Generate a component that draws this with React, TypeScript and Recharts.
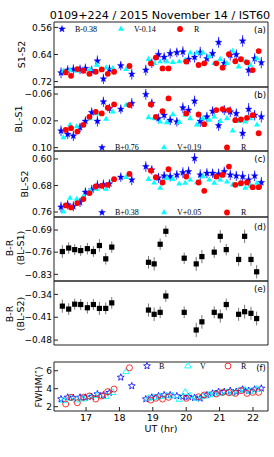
import React from "react";
import { ScatterChart, Scatter, XAxis, YAxis, ErrorBar } from "recharts";

// observation times (UT hr) for each filter
const timeB = [16.25, 16.45, 16.62, 16.82, 16.98, 17.17, 17.34, 17.52, 17.7, 18.04, 18.37, 18.79, 18.97, 19.17, 19.34, 19.52, 19.72, 19.9, 20.07, 20.25, 20.42, 20.62, 20.79, 20.97, 21.14, 21.32, 21.5, 21.69, 21.87, 22.05, 22.25];
const timeV = [16.32, 16.52, 16.72, 16.92, 17.12, 17.32, 17.6, 17.8, 18.2, 18.87, 19.04, 19.22, 19.42, 19.6, 19.79, 19.97, 20.12, 20.32, 20.5, 20.69, 20.84, 21.02, 21.22, 21.39, 21.57, 21.77, 21.92, 22.12];
const timeR = [16.39, 16.55, 16.74, 16.92, 17.1, 17.29, 17.47, 17.65, 17.84, 18.3, 18.94, 19.09, 19.29, 19.47, 20.0, 20.37, 20.54, 20.9, 21.09, 21.28, 21.47, 21.64, 21.82, 21.99, 22.17];
const timeBR = [16.29, 16.48, 16.66, 16.84, 17.04, 17.22, 17.4, 17.59, 17.77, 18.87, 19.04, 19.22, 19.39, 19.94, 20.3, 20.47, 20.84, 21.02, 21.2, 21.57, 21.75, 21.94, 22.11];

// (a) S1-S2
const s1s2B = [0.694, 0.686, 0.684, 0.684, 0.681, 0.688, 0.659, 0.712, 0.684, 0.673, 0.698, 0.686, 0.666, 0.64, 0.648, 0.637, 0.634, 0.632, 0.654, 0.648, 0.634, 0.652, 0.637, 0.604, 0.666, 0.642, 0.64, 0.6, 0.686, 0.652, 0.664];
const s1s2V = [0.689, 0.686, 0.688, 0.686, 0.684, 0.671, 0.679, 0.681, 0.684, 0.654, 0.666, 0.661, 0.661, 0.663, 0.661, 0.656, 0.635, 0.635, 0.635, 0.646, 0.666, 0.654, 0.666, 0.63, 0.676, 0.661, 0.671, 0.652];
const s1s2R = [0.693, 0.703, 0.683, 0.688, 0.697, 0.691, 0.684, 0.697, 0.691, 0.674, 0.666, 0.649, 0.681, 0.681, 0.661, 0.671, 0.666, 0.666, 0.679, 0.639, 0.66, 0.654, 0.663, 0.686, 0.63];

// (b) BL-S1
const bls1B = [0.05, 0.06, 0.065, 0.04, 0.021, -0.005, 0.021, -0.037, -0.017, -0.015, -0.032, -0.059, -0.032, 0.013, 0.003, 0.018, 0.023, -0.019, -0.012, -0.039, 0.021, 0.008, -0.009, 0.034, -0.012, -0.007, -0.002, 0.057, -0.015, 0.003, 0.008];
const bls1V = [0.07, 0.032, 0.037, 0.034, 0.013, -0.002, 0.015, -0.007, -0.027, 0.01, 0.013, 0.023, 0.025, 0.001, 0.024, 0.003, 0.013, 0.032, 0.013, 0.018, 0.008, 0.021, 0.013, 0.05, 0.021, 0.023, 0.013, 0.032];
const bls1R = [0.047, 0.042, 0.052, 0.032, 0.008, -0.007, -0.002, -0.019, -0.029, -0.027, -0.029, 0.008, -0.009, -0.047, -0.002, 0.001, 0.03, -0.012, -0.015, -0.012, 0.018, 0.016, 0.011, 0.003, 0.057];

// (c) BL-S2
const bls2B = [0.745, 0.738, 0.743, 0.731, 0.7, 0.693, 0.68, 0.677, 0.675, 0.655, 0.663, 0.623, 0.633, 0.657, 0.651, 0.653, 0.648, 0.641, 0.638, 0.598, 0.648, 0.643, 0.643, 0.645, 0.638, 0.648, 0.651, 0.653, 0.663, 0.651, 0.671];
const bls2V = [0.759, 0.718, 0.721, 0.713, 0.695, 0.691, 0.691, 0.663, 0.655, 0.661, 0.672, 0.688, 0.658, 0.661, 0.675, 0.673, 0.663, 0.671, 0.653, 0.663, 0.673, 0.663, 0.669, 0.678, 0.678, 0.688, 0.681, 0.673];
const bls2R = [0.74, 0.746, 0.733, 0.721, 0.703, 0.683, 0.681, 0.678, 0.661, 0.645, 0.635, 0.655, 0.671, 0.631, 0.653, 0.671, 0.696, 0.653, 0.648, 0.623, 0.678, 0.673, 0.671, 0.685, 0.685];

// (d) B-R from BL-S1, (e) B-R from BL-S2
const brS1 = [-0.758, -0.747, -0.752, -0.755, -0.749, -0.758, -0.739, -0.781, -0.744, -0.792, -0.797, -0.735, -0.694, -0.779, -0.797, -0.774, -0.76, -0.71, -0.752, -0.783, -0.71, -0.783, -0.822];
const brS2 = [-0.376, -0.385, -0.37, -0.371, -0.381, -0.371, -0.383, -0.383, -0.366, -0.388, -0.401, -0.395, -0.345, -0.395, -0.449, -0.424, -0.395, -0.406, -0.371, -0.401, -0.393, -0.398, -0.414];

// (f) FWHM (arcsec)
const fwhmB = [2.85, 3.04, 3.0, 3.04, 3.04, 3.11, 3.41, 3.3, 3.56, 5.26, 4.3, 2.85, 3.04, 3.19, 3.3, 3.3, 3.19, 3.11, 3.11, 3.0, 2.93, 3.3, 3.48, 3.67, 3.67, 3.78, 3.67, 3.93, 3.78, 3.93, 4.04];
const fwhmV = [2.67, 2.93, 2.74, 2.85, 3.11, 3.22, 3.11, 3.56, 5.89, 2.93, 3.0, 3.11, 3.19, 3.19, 2.81, 3.59, 3.19, 2.93, 3.11, 3.3, 3.41, 3.48, 3.56, 3.48, 3.78, 3.85, 3.67, 3.93];
const fwhmR = [2.3, 3.04, 2.44, 3.04, 3.19, 2.85, 3.19, 3.67, 3.96, 6.33, 2.74, 2.93, 2.85, 3.04, 2.93, 3.11, 3.3, 3.41, 3.59, 3.56, 3.48, 3.78, 3.48, 3.59, 3.59];

// error bars
const errB = [0.016, 0.014, 0.015, 0.014, 0.014, 0.015, 0.016, 0.015, 0.014, 0.014, 0.016, 0.016, 0.014, 0.015, 0.014, 0.015, 0.014, 0.016, 0.015, 0.016, 0.017, 0.015, 0.014, 0.016, 0.015, 0.016, 0.015, 0.017, 0.018, 0.016, 0.017];
const errBR = [0.02, 0.018, 0.017, 0.017, 0.018, 0.017, 0.02, 0.018, 0.018, 0.02, 0.021, 0.018, 0.018, 0.018, 0.022, 0.021, 0.018, 0.02, 0.018, 0.02, 0.021, 0.02, 0.021];

const xTicks = [17, 18, 19, 20, 21, 22];
const xDomain: [number, number] = [16.04, 22.45];

const BLUE = "#0000ff";
const CYAN = "#00ffff";
const RED = "#ff0000";
const FONT = "'DejaVu Sans', sans-serif";
const SERIF = "'Liberation Serif', serif";

const pts = (t: number[], v: number[], e?: number[]) =>
  t.map((x, i) => ({ x, y: v[i], e: e ? e[i] : 0 }));

const starPath = (cx: number, cy: number, r: number) => {
  let d = "";
  for (let i = 0; i < 10; i++) {
    const rr = i % 2 === 0 ? r : r * 0.42;
    const a = -Math.PI / 2 + (i * Math.PI) / 5;
    d += (i === 0 ? "M" : "L") + (cx + rr * Math.cos(a)).toFixed(2) + "," + (cy + rr * Math.sin(a)).toFixed(2);
  }
  return d + "Z";
};
const triPath = (cx: number, cy: number, r: number) =>
  `M${cx},${cy - r}L${cx - r * 0.866},${cy + r * 0.5}L${cx + r * 0.866},${cy + r * 0.5}Z`;

const Star = (p: any) => <path d={starPath(p.cx, p.cy, 3.6)} fill={BLUE} stroke={BLUE} strokeWidth={0.3} />;
const Tri = (p: any) => <path d={triPath(p.cx, p.cy, 3.4)} fill={CYAN} />;
const Dot = (p: any) => <circle cx={p.cx} cy={p.cy} r={2.9} fill={RED} />;
const Square = (p: any) => <rect x={p.cx - 2.6} y={p.cy - 2.6} width={5.2} height={5.2} fill="#000" />;
const OpenStar = (p: any) => <path d={starPath(p.cx, p.cy, 3.6)} fill="none" stroke={BLUE} strokeWidth={0.8} />;
const OpenTri = (p: any) => <path d={triPath(p.cx, p.cy, 3.8)} fill="none" stroke={CYAN} strokeWidth={0.9} />;
const OpenDot = (p: any) => <circle cx={p.cx} cy={p.cy} r={3} fill="none" stroke={RED} strokeWidth={0.8} />;

const fmt2 = (v: number) => (v < 0 ? "\u2212" : "") + Math.abs(v).toFixed(2);
const fmt0 = (v: number) => String(v);

type PanelProps = {
  top: number;
  h: number;
  domain: [number, number];
  ticks: number[];
  reversed?: boolean;
  showX?: boolean;
  fmt: (v: number) => string;
  children: React.ReactNode;
};

function Panel({ top, h, domain, ticks, reversed, showX, fmt, children }: PanelProps) {
  const pad = 8;
  const bottom = showX ? 32 : pad;
  return (
    <div style={{ position: "absolute", left: 0, top: top - pad }}>
      <ScatterChart width={274} height={h + pad + bottom} margin={{ top: 0, right: 0, bottom: 0, left: 0 }}>
        <XAxis
          xAxisId="b"
          dataKey="x"
          type="number"
          domain={xDomain}
          ticks={xTicks}
          allowDataOverflow
          interval={0}
          height={bottom}
          tickSize={-4}
          tickMargin={showX ? 7 : 0}
          tick={showX ? { fontSize: 9.5, fill: "#000", fontFamily: FONT } : false}
          stroke="#222"
        />
        <XAxis
          xAxisId="t"
          orientation="top"
          type="number"
          domain={xDomain}
          ticks={xTicks}
          allowDataOverflow
          interval={0}
          height={pad}
          tickSize={-4}
          tick={false}
          stroke="#222"
        />
        <YAxis
          yAxisId="l"
          dataKey="y"
          type="number"
          domain={domain}
          ticks={ticks}
          reversed={reversed}
          allowDataOverflow
          interval={0}
          width={54}
          tickSize={-4}
          tickMargin={6}
          tick={{ fontSize: 9, fill: "#000", fontFamily: FONT }}
          tickFormatter={fmt}
          stroke="#222"
        />
        <YAxis
          yAxisId="r"
          orientation="right"
          type="number"
          domain={domain}
          ticks={ticks}
          reversed={reversed}
          allowDataOverflow
          interval={0}
          width={6}
          tickSize={-4}
          tick={false}
          stroke="#222"
        />
        {children}
      </ScatterChart>
    </div>
  );
}

function LegendRow({ y, labels, open, xs, tx }: { y: number; labels: string[]; open?: boolean; xs: number[]; tx: number[] }) {
  const mk = open ? [OpenStar, OpenTri, OpenDot] : [Star, Tri, Dot];
  return (
    <g>
      {labels.map((l, i) => {
        const M = mk[i];
        return (
          <g key={l}>
            <M cx={xs[i]} cy={y} />
            <text x={tx[i]} y={y + 2.8} fontSize={8} fontFamily={SERIF} fill="#000">
              {l}
            </text>
          </g>
        );
      })}
    </g>
  );
}

export default function App() {
  const ax = { xAxisId: "b", yAxisId: "l", isAnimationActive: false } as const;
  const eb = { dataKey: "e", direction: "y", width: 0, strokeWidth: 1 } as const;
  return (
    <div style={{ position: "absolute", left: 0, top: 0, width: 274, height: 457, background: "#fff" }}>
      <Panel top={22} h={65} domain={[0.544, 0.736]} ticks={[0.56, 0.64, 0.72]} reversed fmt={fmt2}>
        <Scatter {...ax} data={pts(timeB, s1s2B, errB)} shape={Star}>
          <ErrorBar {...eb} stroke="#3030ff" />
        </Scatter>
        <Scatter {...ax} data={pts(timeV, s1s2V)} shape={Tri} />
        <Scatter {...ax} data={pts(timeR, s1s2R)} shape={Dot} />
      </Panel>
      <Panel top={87} h={64} domain={[-0.081, 0.11]} ticks={[-0.06, 0.02, 0.1]} reversed fmt={fmt2}>
        <Scatter {...ax} data={pts(timeB, bls1B, errB)} shape={Star}>
          <ErrorBar {...eb} stroke="#3030ff" />
        </Scatter>
        <Scatter {...ax} data={pts(timeV, bls1V)} shape={Tri} />
        <Scatter {...ax} data={pts(timeR, bls1R)} shape={Dot} />
      </Panel>
      <Panel top={151} h={66} domain={[0.576, 0.775]} ticks={[0.6, 0.68, 0.76]} reversed fmt={fmt2}>
        <Scatter {...ax} data={pts(timeB, bls2B, errB)} shape={Star}>
          <ErrorBar {...eb} stroke="#3030ff" />
        </Scatter>
        <Scatter {...ax} data={pts(timeV, bls2V)} shape={Tri} />
        <Scatter {...ax} data={pts(timeR, bls2R)} shape={Dot} />
      </Panel>
      <Panel top={217} h={64} domain={[-0.851, -0.649]} ticks={[-0.83, -0.76, -0.69]} fmt={fmt2}>
        <Scatter {...ax} data={pts(timeBR, brS1, errBR)} shape={Square}>
          <ErrorBar {...eb} stroke="#777" />
        </Scatter>
      </Panel>
      <Panel top={281} h={64} domain={[-0.495, -0.299]} ticks={[-0.48, -0.41, -0.34]} fmt={fmt2}>
        <Scatter {...ax} data={pts(timeBR, brS2, errBR)} shape={Square}>
          <ErrorBar {...eb} stroke="#777" />
        </Scatter>
      </Panel>
      <Panel top={362} h={49} domain={[1.52, 6.97]} ticks={[2, 4, 6]} fmt={fmt0} showX>
        <Scatter {...ax} data={pts(timeB, fwhmB)} shape={OpenStar} />
        <Scatter {...ax} data={pts(timeV, fwhmV)} shape={OpenTri} />
        <Scatter {...ax} data={pts(timeR, fwhmR)} shape={OpenDot} />
      </Panel>

      <svg width={274} height={457} style={{ position: "absolute", left: 0, top: 0, pointerEvents: "none" }}>
        <text x={160} y={15} fontSize={11.2} fontFamily={FONT} textAnchor="middle" dominantBaseline="central" fill="#000">
          0109+224 / 2015 November 14 / IST60
        </text>

        <g fontSize={9.5} fontFamily={FONT} fill="#000" textAnchor="middle" dominantBaseline="central">
          <text transform="translate(21,54.5) rotate(-90)">S1-S2</text>
          <text transform="translate(18,119) rotate(-90)">BL-S1</text>
          <text transform="translate(24,184) rotate(-90)">BL-S2</text>
          <text transform="translate(9.5,248) rotate(-90)">B-R</text>
          <text transform="translate(20.5,248) rotate(-90)">(BL-S1)</text>
          <text transform="translate(9.5,314) rotate(-90)">B-R</text>
          <text transform="translate(20.5,314) rotate(-90)">(BL-S2)</text>
          <text transform="translate(38,387) rotate(-90)">FWHM(″)</text>
          <text x={161} y={428}>UT (hr)</text>
        </g>

        <g fontSize={8.5} fontFamily={FONT} fill="#000" textAnchor="middle" dominantBaseline="central">
          <text x={260} y={30}>(a)</text>
          <text x={260} y={95}>(b)</text>
          <text x={260} y={159}>(c)</text>
          <text x={260} y={227}>(d)</text>
          <text x={260} y={289}>(e)</text>
          <text x={261} y={368}>(f)</text>
        </g>

        <LegendRow y={29} labels={["B-0.38", "V-0.14", "R"]} xs={[62, 121, 180]} tx={[75, 134, 194]} />
        <LegendRow y={147.5} labels={["B+0.76", "V+0.19", "R"]} xs={[102, 164, 227]} tx={[115, 177, 241]} />
        <LegendRow y={212.5} labels={["B+0.38", "V+0.05", "R"]} xs={[102, 164, 227]} tx={[115, 177, 241]} />
        <LegendRow y={366} labels={["B", "V", "R"]} xs={[147, 188, 228]} tx={[159, 200, 241]} open />
      </svg>
    </div>
  );
}
